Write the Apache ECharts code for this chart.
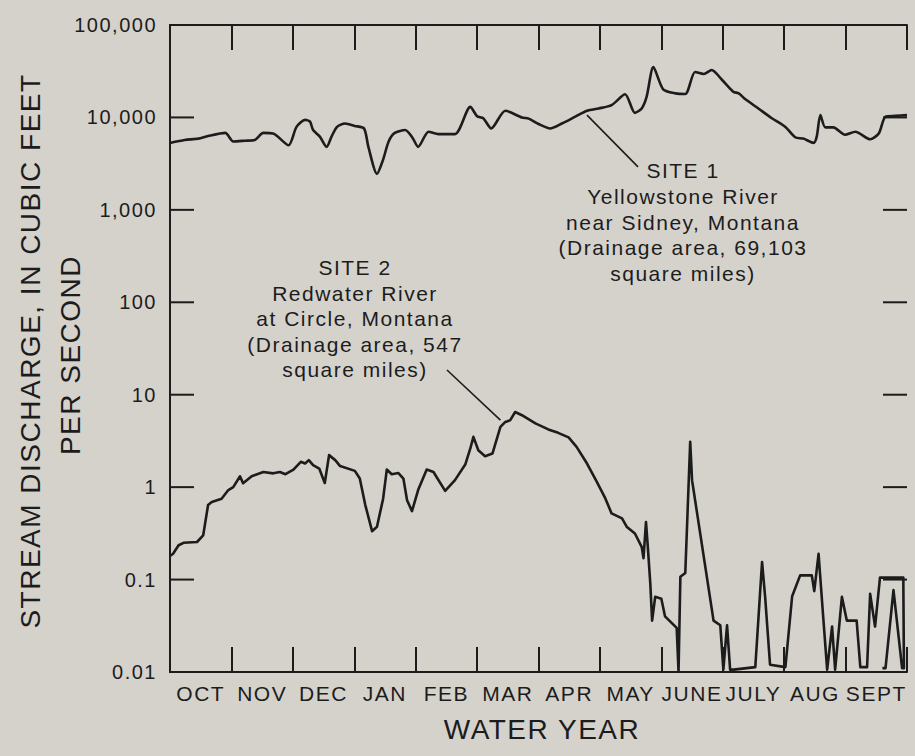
<!DOCTYPE html>
<html>
<head>
<meta charset="utf-8">
<title>Stream discharge, water year</title>
<script src="https://cdn.jsdelivr.net/npm/echarts@6/dist/echarts.min.js"></script>
<style>
  html, body { margin: 0; padding: 0; background: #d5d2cc; }
  #chart { width: 915px; height: 756px; }
  /* wide lettering, as on the printed figure */
  #chart svg text { letter-spacing: 1.5px; }
</style>
</head>
<body>
<div id="chart"></div>
<script>
// Month bands of the water year (October through September)
const months = ['OCT', 'NOV', 'DEC', 'JAN', 'FEB', 'MAR', 'APR', 'MAY', 'JUNE', 'JULY', 'AUG', 'SEPT'];

// Discharge tick labels, one per decade from 0.01 to 100,000
const flowTickLabels = ['0.01', '0.1', '1', '10', '100', '1,000', '10,000', '100,000'];

// Site 1, Yellowstone River near Sidney: [months since Oct 1, cubic feet per second]
const site1Flow = [
  [0, 5300], [0.24, 5700], [0.46, 5900], [0.62, 6300], [0.9, 6800],
  [1.03, 5500], [1.22, 5600], [1.38, 5700], [1.52, 6800], [1.68, 6700],
  [1.93, 5000], [2.06, 7900], [2.2, 9400], [2.28, 9000], [2.33, 7300],
  [2.44, 6200], [2.55, 4800], [2.63, 6200], [2.72, 7900], [2.85, 8600],
  [3.01, 8100], [3.16, 7600], [3.23, 4800], [3.37, 2450], [3.47, 3500],
  [3.56, 5500], [3.66, 6800], [3.83, 7300], [3.95, 6000], [4.04, 4800],
  [4.21, 7000], [4.37, 6600], [4.64, 6600], [4.89, 13000], [5.0, 10300],
  [5.1, 9800], [5.23, 7600], [5.46, 11800], [5.73, 10000], [5.84, 9700],
  [6.0, 8500], [6.19, 7600], [6.38, 8600], [6.6, 10200], [6.79, 11800],
  [6.98, 12500], [7.19, 13600], [7.41, 17800], [7.57, 11200], [7.68, 12500],
  [7.76, 16700], [7.87, 35000], [8.03, 20100], [8.23, 18200], [8.39, 17900],
  [8.55, 31000], [8.69, 29500], [8.82, 32600], [8.99, 25400], [9.17, 19000],
  [9.26, 18200], [9.37, 15700], [9.58, 12500], [9.8, 9800], [10.02, 7900],
  [10.18, 6100], [10.31, 5900], [10.48, 5300], [10.53, 6200], [10.59, 10600],
  [10.67, 7800], [10.8, 7800], [10.99, 6500], [11.16, 7000], [11.4, 5800],
  [11.54, 6700], [11.65, 10200], [11.81, 10400], [12, 10600]
];

// Site 2, Redwater River at Circle: [months since Oct 1, cubic feet per second]
const site2Flow = [
  [0, 0.18], [0.05, 0.19], [0.14, 0.235], [0.22, 0.25], [0.44, 0.255],
  [0.54, 0.3], [0.62, 0.64], [0.68, 0.69], [0.84, 0.75], [0.95, 0.93],
  [1.03, 1.0], [1.14, 1.31], [1.19, 1.1], [1.33, 1.31], [1.52, 1.46],
  [1.68, 1.41], [1.79, 1.46], [1.88, 1.38], [2.01, 1.55], [2.13, 1.88],
  [2.2, 1.8], [2.26, 1.96], [2.33, 1.73], [2.43, 1.59], [2.52, 1.11],
  [2.59, 2.22], [2.69, 1.96], [2.77, 1.69], [3.01, 1.5], [3.09, 1.24],
  [3.18, 0.64], [3.29, 0.334], [3.37, 0.372], [3.47, 0.75], [3.53, 1.55],
  [3.61, 1.38], [3.72, 1.42], [3.8, 1.24], [3.86, 0.72], [3.94, 0.55],
  [4.04, 0.93], [4.18, 1.55], [4.29, 1.46], [4.48, 0.91], [4.64, 1.19],
  [4.81, 1.77], [4.89, 2.62], [4.94, 3.5], [5.02, 2.51], [5.13, 2.16],
  [5.25, 2.31], [5.38, 4.49], [5.46, 5.08], [5.54, 5.3], [5.62, 6.5],
  [5.73, 6.0], [5.95, 4.89], [6.16, 4.21], [6.32, 3.87], [6.49, 3.45],
  [6.62, 2.73], [6.79, 1.8], [6.95, 1.14], [7.09, 0.75], [7.19, 0.52],
  [7.36, 0.46], [7.44, 0.37], [7.57, 0.315], [7.68, 0.226], [7.71, 0.17],
  [7.75, 0.42], [7.78, 0.226], [7.82, 0.091], [7.85, 0.036], [7.9, 0.065],
  [8.0, 0.062], [8.06, 0.04], [8.25, 0.03], [8.28, 0.0101], [8.31, 0.107],
  [8.39, 0.118], [8.47, 3.09], [8.5, 1.19], [8.85, 0.036], [8.96, 0.032],
  [9.01, 0.0106], [9.07, 0.032], [9.12, 0.0106], [9.18, 0.0106], [9.53, 0.0113],
  [9.64, 0.155], [9.69, 0.065], [9.77, 0.012], [10.02, 0.0113], [10.13, 0.066],
  [10.26, 0.111], [10.45, 0.111], [10.49, 0.075], [10.56, 0.19], [10.64, 0.036],
  [10.7, 0.0106], [10.78, 0.031], [10.83, 0.0106], [10.94, 0.065], [11.02, 0.036],
  [11.18, 0.036], [11.24, 0.0113], [11.35, 0.0113], [11.4, 0.07], [11.48, 0.031],
  [11.56, 0.105], [11.94, 0.105], [11.95, 0.011], [11.92, 0.011], [11.78, 0.077],
  [11.65, 0.011], [11.6, 0.011]
];

// Leader lines from each label to its curve: [start, end] as [month, cfs]
const site1Leader = [[6.79, 10600], [7.62, 2920]];
const site2Leader = [[4.51, 18.5], [5.38, 5.3]];

const site1Label = 'SITE 1\nYellowstone River\nnear Sidney, Montana\n(Drainage area, 69,103\nsquare miles)';
const site2Label = 'SITE 2\nRedwater River\nat Circle, Montana\n(Drainage area, 547\nsquare miles)';

const INK = '#1c1c1c';
const FONT = '"Liberation Sans", Arial, Helvetica, sans-serif';
const X_MIN = 0, X_MAX = 12;
const TICK_LEN = 24;        // inward decade tick length, px

const chart = echarts.init(document.getElementById('chart'), null, { renderer: 'svg' });

function frameLine() {
  return { show: true, lineStyle: { color: INK, width: 2 } };
}
function innerTicks(len) {
  return { show: true, inside: true, length: len, lineStyle: { color: INK, width: 2 } };
}

// Decade values behind the tick labels; the inner ones get frame ticks on both sides
const decades = flowTickLabels.map(function (t) { return Number(t.replace(/,/g, '')); });
const innerDecades = decades.slice(1, -1);

function leader(points) {
  return {
    symbol: 'none',
    silent: true,
    animation: false,
    label: { show: false },
    lineStyle: { color: INK, width: 1.6, type: 'solid' },
    emphasis: { disabled: true },
    data: [[{ coord: points[0] }, { coord: points[1] }]]
  };
}

chart.setOption({
  animation: false,
  backgroundColor: '#d5d2cc',
  textStyle: { fontFamily: FONT, color: INK },
  grid: { left: 170, right: 8, top: 25, bottom: 84, containLabel: false, outerBoundsMode: 'none' },
  xAxis: [
    {
      type: 'value', position: 'bottom', min: X_MIN, max: X_MAX, interval: 1,
      axisLine: frameLine(), axisTick: innerTicks(25),
      axisLabel: { show: false }, splitLine: { show: false }
    },
    {
      type: 'value', position: 'top', min: X_MIN, max: X_MAX, interval: 1,
      axisLine: frameLine(), axisTick: innerTicks(25),
      axisLabel: { show: false }, splitLine: { show: false }
    },
    {
      type: 'category', position: 'bottom', data: months, boundaryGap: true,
      axisLine: { show: false }, axisTick: { show: false }, splitLine: { show: false },
      axisLabel: { show: true, interval: 0, margin: 11, fontSize: 21, color: INK, fontFamily: FONT }
    }
  ],
  yAxis: [
    {
      type: 'log', logBase: 10, position: 'left', min: decades[0], max: decades[decades.length - 1],
      axisLine: frameLine(),
      axisTick: { show: false },
      splitLine: { show: false },
      axisLabel: {
        show: true, margin: 13, fontSize: 20, color: INK, fontFamily: FONT,
        showMinLabel: true, showMaxLabel: true,
        formatter: function (v) {
          const i = Math.round(Math.log10(v)) + 2;
          return flowTickLabels[i] || '';
        }
      }
    },
    {
      type: 'log', logBase: 10, position: 'right', min: decades[0], max: decades[decades.length - 1],
      axisLine: frameLine(),
      axisTick: { show: false },
      splitLine: { show: false },
      axisLabel: { show: false }
    }
  ],
  series: [
    {
      name: 'Yellowstone River near Sidney, Montana',
      type: 'line', xAxisIndex: 0, yAxisIndex: 0,
      data: site1Flow, showSymbol: false, symbol: 'none', smooth: 0.25,
      lineStyle: { color: INK, width: 2.6 },
      emphasis: { disabled: true },
      markLine: leader(site1Leader)
    },
    {
      name: 'Redwater River at Circle, Montana',
      type: 'line', xAxisIndex: 0, yAxisIndex: 0,
      data: site2Flow, showSymbol: false, symbol: 'none', smooth: false,
      lineStyle: { color: INK, width: 2.6, join: 'round' },
      emphasis: { disabled: true },
      markLine: leader(site2Leader)
    }
  ],
  graphic: [
    {
      id: 'title-1', type: 'text', x: 30, y: 351, rotation: Math.PI / 2, silent: true,
      style: { text: 'STREAM DISCHARGE, IN CUBIC FEET', fill: INK, font: '28px ' + FONT, align: 'center', verticalAlign: 'middle' }
    },
    {
      id: 'title-2', type: 'text', x: 70, y: 355, rotation: Math.PI / 2, silent: true,
      style: { text: 'PER SECOND', fill: INK, font: '28px ' + FONT, align: 'center', verticalAlign: 'middle' }
    },
    {
      id: 'x-title', type: 'text', x: 542, y: 729, silent: true,
      style: { text: 'WATER YEAR', fill: INK, font: '28px ' + FONT, align: 'center', verticalAlign: 'middle' }
    },
    {
      id: 'site-1', type: 'text', x: 683, y: 158, silent: true,
      style: { text: site1Label, fill: INK, font: '21px ' + FONT, lineHeight: 25.7, align: 'center', verticalAlign: 'top' }
    },
    {
      id: 'site-2', type: 'text', x: 355, y: 255, silent: true,
      style: { text: site2Label, fill: INK, font: '21px ' + FONT, lineHeight: 25.5, align: 'center', verticalAlign: 'top' }
    }
  ]
});

// Inward decade ticks on both side frames, placed through the chart's own scales
const frameTicks = [];
innerDecades.forEach(function (v, i) {
  const left = chart.convertToPixel({ xAxisIndex: 0, yAxisIndex: 0 }, [X_MIN, v]);
  const right = chart.convertToPixel({ xAxisIndex: 0, yAxisIndex: 0 }, [X_MAX, v]);
  frameTicks.push({
    id: 'tick-left-' + i, type: 'line', silent: true, z: 100,
    shape: { x1: left[0], y1: left[1], x2: left[0] + TICK_LEN, y2: left[1] },
    style: { stroke: INK, lineWidth: 2 }
  });
  frameTicks.push({
    id: 'tick-right-' + i, type: 'line', silent: true, z: 100,
    shape: { x1: right[0], y1: right[1], x2: right[0] - TICK_LEN, y2: right[1] },
    style: { stroke: INK, lineWidth: 2 }
  });
});
chart.setOption({ graphic: frameTicks });
</script>
</body>
</html>
